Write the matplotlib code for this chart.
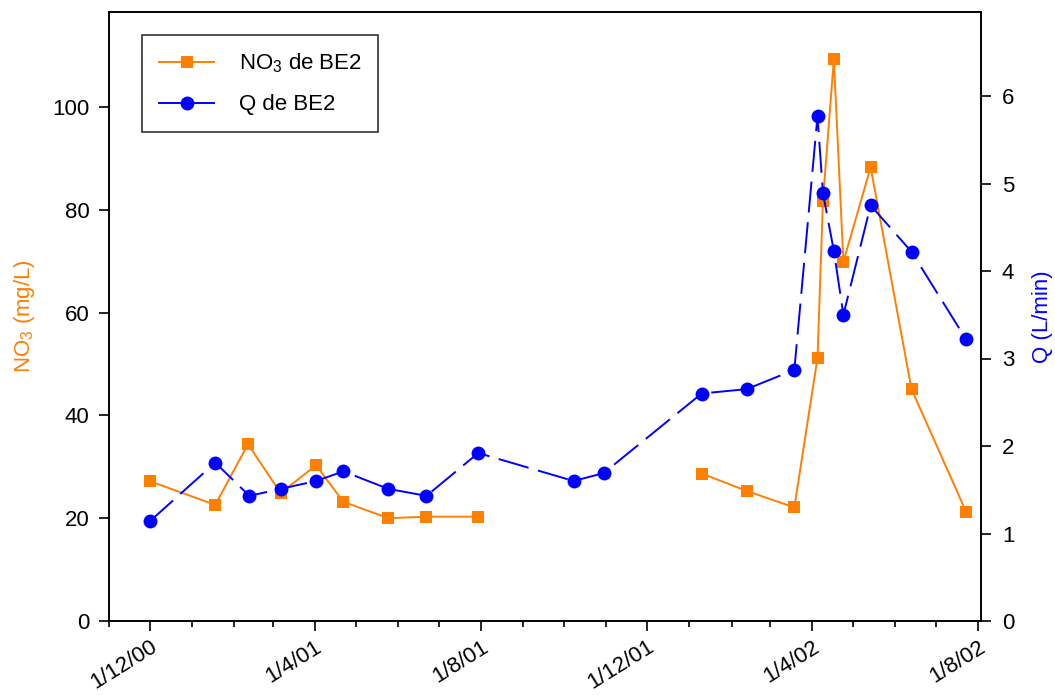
import pandas as pd
import numpy as np
import matplotlib
matplotlib.use('Agg')
import matplotlib.pyplot as plt
import matplotlib.dates as mdates

##data

no3_dates=['2000-12-01','2001-01-18','2001-02-11','2001-03-07','2001-04-02','2001-04-22','2001-05-25','2001-06-22','2001-07-30',
           '2001-10-15',
           '2002-01-10','2002-02-12','2002-03-19','2002-04-05','2002-04-09','2002-04-17','2002-04-24','2002-05-14','2002-06-13','2002-07-23']
no3_values=[27.2,22.6,34.4,24.9,30.3,23.2,20.0,20.3,20.3,
            np.nan,
            28.7,25.3,22.1,51.2,81.8,109.3,69.9,88.3,45.1,21.3]

q_dates=['2000-12-01','2001-01-18','2001-02-12','2001-03-07','2001-04-02','2001-04-22','2001-05-25','2001-06-22','2001-07-30',
         '2001-10-08','2001-10-30','2002-01-10','2002-02-12','2002-03-19','2002-04-05','2002-04-09','2002-04-17','2002-04-24',
         '2002-05-14','2002-06-13','2002-07-23']
q_values=[1.14,1.81,1.43,1.51,1.60,1.71,1.51,1.43,1.92,
          1.60,1.69,2.60,2.65,2.87,5.77,4.89,4.23,3.50,
          4.75,4.22,3.22]

tick_dates=['2000-12-01','2001-04-01','2001-08-01','2001-12-01','2002-04-01','2002-08-01']
tick_labels=['1/12/00','1/4/01','1/8/01','1/12/01','1/4/02','1/8/02']

orange='#FF7F00'
blue='#0000FF'

##style

plt.rcParams['font.family']=['Liberation Sans','DejaVu Sans']
plt.rcParams['mathtext.fontset']='custom'
plt.rcParams['mathtext.rm']='Liberation Sans'
plt.rcParams['mathtext.it']='Liberation Sans'
plt.rcParams['mathtext.default']='regular'

fig=plt.figure(figsize=(10.55,6.95),dpi=100)
ax=fig.add_axes([109/1055,1-621/695,(981-109)/1055,(621-12)/695])
ax2=ax.twinx()

##plot

l1,=ax.plot(pd.to_datetime(no3_dates),no3_values,'-s',color=orange,lw=1.4,
            markersize=8.5,markeredgewidth=0,label='NO$_3$ de BE2')
l2,=ax2.plot(pd.to_datetime(q_dates),q_values,'-o',color=blue,lw=1.4,
             markersize=10,markeredgewidth=0,dashes=(16,5),label='Q de BE2')

ax.set_xlim(pd.Timestamp('2000-11-01'),pd.Timestamp('2002-08-03'))
ax.set_ylim(0,118.5)
ax2.set_ylim(0,6.96)
ax.set_yticks([0,20,40,60,80,100])
ax2.set_yticks([0,1,2,3,4,5,6])

ax.set_xticks(pd.to_datetime(tick_dates))
ax.set_xticklabels(tick_labels,rotation=32,ha='right',rotation_mode='anchor')
ax.xaxis.set_minor_locator(mdates.MonthLocator())

ax.tick_params(axis='y',which='major',direction='out',length=7,width=1.2,labelsize=16,pad=7)
ax.tick_params(axis='x',which='major',direction='out',length=7,width=1.2,labelsize=16,pad=4)
ax.tick_params(axis='x',which='minor',direction='out',length=4,width=1.2)
ax2.tick_params(axis='y',direction='out',length=7,width=1.2,labelsize=16,pad=8)
for a in (ax,ax2):
    for s in a.spines.values():
        s.set_linewidth(1.2)

ax.set_ylabel('NO$_3$ (mg/L)',color=orange,fontsize=16,labelpad=11)
ax2.set_ylabel('Q (L/min)',color=blue,fontsize=16,labelpad=13)

leg=ax2.legend(handles=[l1,l2],loc='upper left',bbox_to_anchor=(0.038,0.962),fontsize=16,
               frameon=True,fancybox=False,edgecolor='black',handlelength=2.5,handletextpad=1.1,
               borderpad=0.75,labelspacing=0.85,borderaxespad=0)
leg.get_frame().set_linewidth(1.2)
leg.legend_handles[1].set_linestyle('-')

fig.savefig('out.png',dpi=100)
